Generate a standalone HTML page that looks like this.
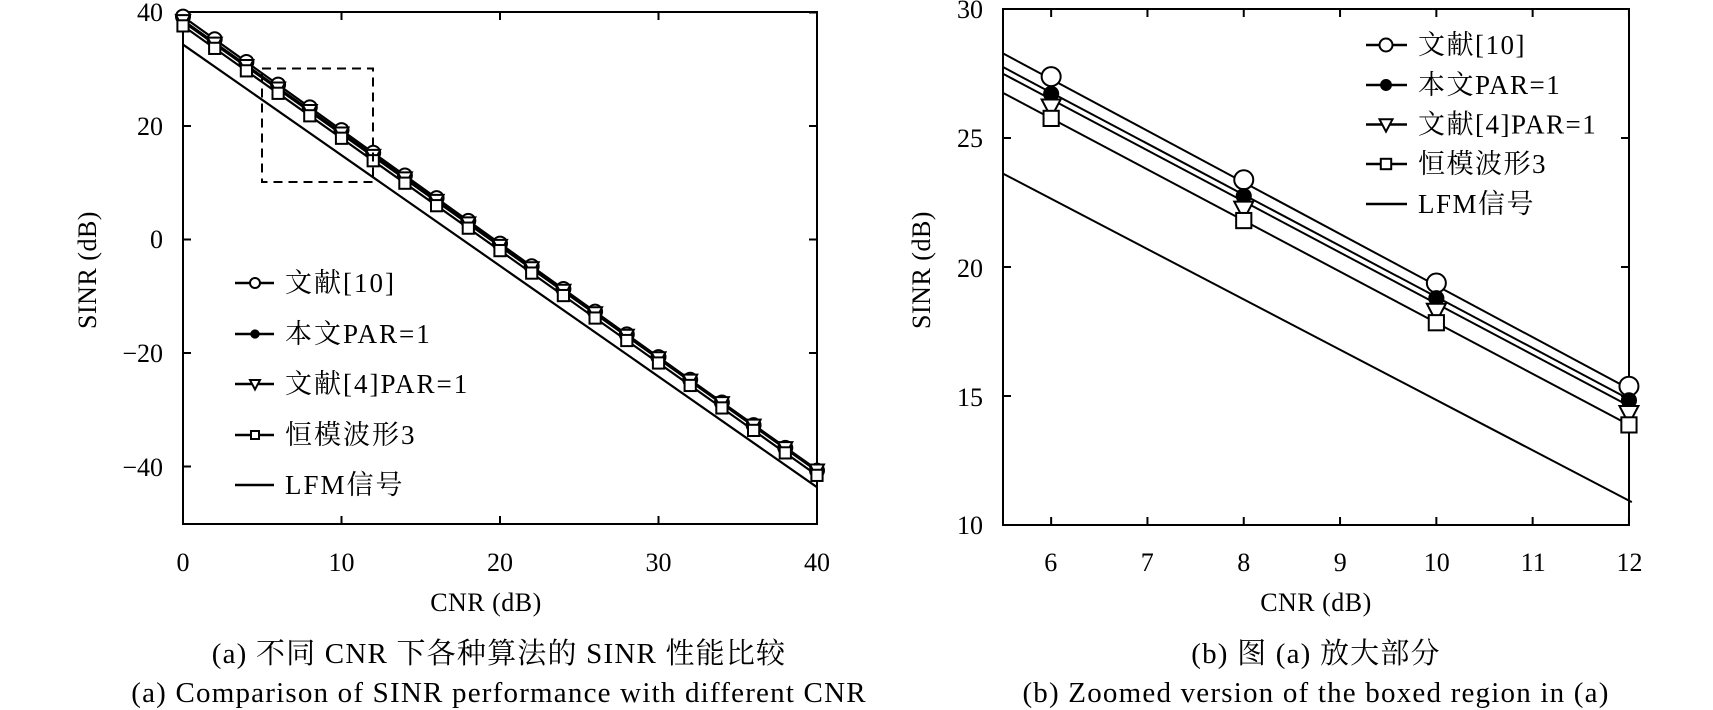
<!DOCTYPE html>
<html><head><meta charset="utf-8"><style>
html,body{margin:0;padding:0;background:#fff;}
svg{display:block;font-family:"Liberation Serif","Noto Serif CJK SC",serif;}
text{fill:#000;}
</style></head><body>
<svg id="s" width="1713" height="710" viewBox="0 0 1713 710" xmlns="http://www.w3.org/2000/svg">
<rect x="183" y="12" width="634" height="512" fill="none" stroke="#000" stroke-width="2"/>
<rect x="1003" y="9" width="626" height="516" fill="none" stroke="#000" stroke-width="2"/>
<g id="g"></g>
<g font-size="26" text-anchor="middle">
<text x="183" y="571">0</text><text x="341.5" y="571">10</text><text x="500" y="571">20</text><text x="658.5" y="571">30</text><text x="817" y="571">40</text>
<text x="486" y="611" letter-spacing="0.5">CNR (dB)</text>
<text x="1050.7" y="571">6</text><text x="1147.2" y="571">7</text><text x="1243.7" y="571">8</text><text x="1340.2" y="571">9</text><text x="1436.7" y="571">10</text><text x="1533.2" y="571">11</text><text x="1629.5" y="571">12</text>
<text x="1316" y="611" letter-spacing="0.5">CNR (dB)</text>
</g>
<g font-size="29" text-anchor="middle" letter-spacing="1.2">
<text x="499" y="663">(a) 不同 CNR 下各种算法的 SINR 性能比较</text>
<text x="499" y="702">(a) Comparison of SINR performance with different CNR</text>
<text x="1316" y="663">(b) 图 (a) 放大部分</text>
<text x="1316" y="702">(b) Zoomed version of the boxed region in (a)</text>
</g>
<g font-size="26" text-anchor="end">
<text x="163" y="21">40</text><text x="163" y="135">20</text><text x="163" y="248">0</text><text x="163" y="362">−20</text><text x="163" y="476">−40</text>
<text x="983" y="18">30</text><text x="983" y="147">25</text><text x="983" y="277">20</text><text x="983" y="406">15</text><text x="983" y="534">10</text>
</g>
<text font-size="26" text-anchor="middle" letter-spacing="0.5" transform="translate(96,270) rotate(-90)">SINR (dB)</text>
<text font-size="26" text-anchor="middle" letter-spacing="0.5" transform="translate(930,270) rotate(-90)">SINR (dB)</text>
</svg>
<script>
const NS="http://www.w3.org/2000/svg",G=document.getElementById('g');
function el(t,a){const e=document.createElementNS(NS,t);for(const k in a)e.setAttribute(k,a[k]);G.appendChild(e);return e;}
function ln(x1,y1,x2,y2,w,d){el('line',{x1,y1,x2,y2,stroke:'#000','stroke-width':w||2,'stroke-dasharray':d||'none'});}
function mk(type,x,y,s){
 if(type==0)el('circle',{cx:x,cy:y,r:s,fill:'#fff',stroke:'#000','stroke-width':2});
 if(type==1)el('circle',{cx:x,cy:y,r:s*0.85,fill:'#000'});
 if(type==2)el('polygon',{points:`${x-s},${y-s*0.8} ${x+s},${y-s*0.8} ${x},${y+s*1.1}`,fill:'#fff',stroke:'#000','stroke-width':2});
 if(type==3)el('rect',{x:x-s*0.8,y:y-s*0.8,width:s*1.6,height:s*1.6,fill:'#fff',stroke:'#000','stroke-width':2});
}
const ser=[[39.28,-2],[38.64,-1.98],[38.38,-1.98],[37.64,-1.98],[34.35,-1.95]];
const LX=v=>183+v*15.85, LY=v=>466.5-(v+40)*5.675;
for(let v=0;v<=40;v+=10){ln(LX(v),524,LX(v),516);ln(LX(v),12,LX(v),20);}
for(let v=-40;v<=40;v+=20){ln(183,LY(v),191,LY(v));ln(817,LY(v),809,LY(v));}
ser.forEach((s,i)=>{ln(LX(0),LY(s[0]),LX(40),LY(s[0]+40*s[1]),2.2);});
ser.forEach((s,i)=>{if(i<4)for(let x=0;x<=40;x+=2)mk([0,1,2,3][i],LX(x),LY(s[0]+s[1]*x)+(i==2?-1:0),7);});
el('rect',{x:262,y:68.5,width:111,height:113.5,fill:'none',stroke:'#000','stroke-width':2,'stroke-dasharray':'9,6'});
const lr=[283,334,384,435,485],lt=['文献[10]','本文PAR=1','文献[4]PAR=1','恒模波形3','LFM信号'];
lr.forEach((y,i)=>{ln(235,y,274,y,2.5);if(i<4)mk(i,255,y,i==1?5.5:5);const t=el('text',{x:285,y:y+9,'font-size':27,'letter-spacing':2});t.textContent=lt[i];});
const RX=v=>1003+(v-5.5)*96.3, RY=v=>9+(30-v)*25.8;
for(let v=6;v<=12;v++){ln(RX(v),525,RX(v),517);ln(RX(v),9,RX(v),17);}
for(let v=10;v<=30;v+=5){ln(1003,RY(v),1011,RY(v));ln(1629,RY(v),1621,RY(v));}
const rs=[[28.28,-2],[27.75,-1.98],[27.49,-1.98],[26.75,-1.98],[23.62,-1.95]];
rs.forEach(s=>ln(RX(5.5),RY(s[0]),RX(12.03),RY(s[0]+6.53*s[1])));
const off=[0.1,-0.05,-0.3,0];
rs.forEach((s,i)=>{if(i<4)for(let x=6;x<=12;x+=2)mk(i,RX(x),RY(s[0]+s[1]*(x-5.5)+off[i]),9.5);});
const rr=[45,85,124.5,164,204];
rr.forEach((y,i)=>{ln(1366,y,1407,y,2.5);if(i<4)mk(i,1386,y,i==1?7:6.5);const t=el('text',{x:1418,y:y+9,'font-size':27,'letter-spacing':1.5});t.textContent=lt[i];});
</script>
</body></html>
